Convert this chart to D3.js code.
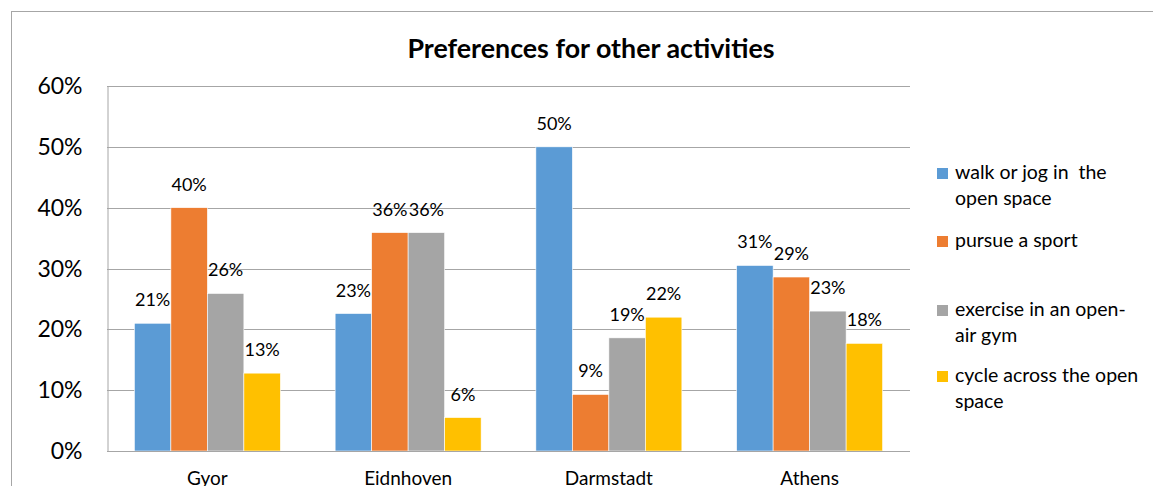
<!DOCTYPE html>
<html>
<head>
<meta charset="utf-8">
<script src="https://cdn.jsdelivr.net/npm/d3@7"></script>
<style>
  html, body { margin: 0; padding: 0; background: #fff; }
  svg { display: block; font-family: Lato, "Open Sans", sans-serif; }
</style>
</head>
<body>
<svg id="chart" width="1153" height="486"></svg>
<script>
const categories = ["Gyor", "Eidnhoven", "Darmstadt", "Athens"];
const seriesNames = ["walk or jog in  the open space", "pursue a sport", "exercise in an open-air gym", "cycle across the open space"];
const legendLines = [["walk or jog in  the", "open space"], ["pursue a sport"], ["exercise in an open-", "air gym"], ["cycle across the open", "space"]];
const walkJog   = [21.0, 22.6, 50.0, 30.5];
const sport     = [40.0, 35.9, 9.3, 28.6];
const gym       = [25.9, 35.9, 18.6, 23.0];
const cycle     = [12.8, 5.5, 22.0, 17.7];
const yTicks = [0, 10, 20, 30, 40, 50, 60];
const colors = ["#5B9BD5", "#ED7D31", "#A5A5A5", "#FFC000"];
const title = "Preferences for other activities";

const seriesValues = [walkJog, sport, gym, cycle];

(function () {
const svg = d3.select("#chart");
const W = 1153, H = 486;

svg.append("rect")
  .attr("x", 11.5).attr("y", 11.5)
  .attr("width", W + 20).attr("height", H + 20)
  .attr("fill", "#fff").attr("stroke", "#a6a6a6").attr("stroke-width", 1);

const pLeft = 107, pRight = 910, pTop = 86, pBottom = 451;

const y = d3.scaleLinear().domain([0, 60]).range([pBottom, pTop]);
const x0 = d3.scaleBand().domain(categories).range([pLeft, pRight])
  .paddingInner(0.2727).paddingOuter(0.1364);
const x1 = d3.scaleBand().domain(d3.range(seriesNames.length)).range([0, x0.bandwidth()]);

svg.append("g").selectAll("line").data(yTicks.filter(t => t > 0)).join("line")
  .attr("x1", pLeft).attr("x2", pRight)
  .attr("y1", d => Math.round(y(d)) + 0.5).attr("y2", d => Math.round(y(d)) + 0.5)
  .attr("stroke", "#a6a6a6").attr("stroke-width", 1);

const yAxis = svg.append("g").attr("transform", `translate(${pLeft + 0.5},0)`)
  .call(d3.axisLeft(y).tickValues(yTicks).tickFormat(d => d + "%").tickSize(0).tickPadding(25));
yAxis.select(".domain").attr("stroke", "#a6a6a6");
yAxis.selectAll("text").attr("font-size", 23).attr("fill", "#000")
  .attr("font-family", "Lato, sans-serif").attr("dy", "0.33em");

const groups = svg.append("g").selectAll("g").data(categories).join("g")
  .attr("transform", d => `translate(${x0(d)},0)`);
groups.selectAll("rect")
  .data((c, ci) => seriesValues.map((vals, si) => ({si, v: vals[ci]})))
  .join("rect")
  .attr("x", d => x1(d.si)).attr("width", x1.bandwidth())
  .attr("y", d => y(d.v)).attr("height", d => pBottom - y(d.v))
  .attr("fill", d => colors[d.si])
  .attr("stroke", "#fff").attr("stroke-width", 0.6);

groups.selectAll("text")
  .data((c, ci) => seriesValues.map((vals, si) => ({si, v: vals[ci]})))
  .join("text")
  .attr("x", d => x1(d.si) + x1.bandwidth() / 2)
  .attr("y", d => y(d.v) - 17)
  .attr("text-anchor", "middle")
  .attr("font-size", 18).attr("fill", "#000")
  .text(d => Math.round(d.v) + "%");

svg.append("line").attr("x1", pLeft).attr("x2", pRight)
  .attr("y1", pBottom + 0.5).attr("y2", pBottom + 0.5)
  .attr("stroke", "#a6a6a6");
const xAxis = svg.append("g").attr("transform", `translate(0,${pBottom})`)
  .call(d3.axisBottom(x0).tickSize(0).tickPadding(0));
xAxis.select(".domain").remove();
xAxis.selectAll("text").attr("font-size", 19).attr("fill", "#000")
  .attr("font-family", "Lato, sans-serif").attr("dy", 0).attr("y", 34);

svg.append("text").attr("x", 591).attr("y", 58).attr("text-anchor", "middle")
  .attr("font-size", 26.8).attr("font-weight", "bold").attr("fill", "#000").text(title);

const legendTops = [179, 247, 316, 382];
const lg = svg.append("g").selectAll("g").data(seriesNames).join("g")
  .attr("transform", (d, i) => `translate(937,${legendTops[i]})`);
lg.append("rect").attr("x", 0).attr("y", -11).attr("width", 11).attr("height", 11)
  .attr("fill", (d, i) => colors[i]);
lg.append("text").attr("x", 18).attr("y", 0).attr("font-size", 19.5).attr("fill", "#000")
  .style("white-space", "pre")
  .selectAll("tspan").data((d, i) => legendLines[i]).join("tspan")
  .attr("x", 18).attr("dy", (d, j) => j === 0 ? 0 : 26)
  .text(d => d);
})();
</script>
</body>
</html>
